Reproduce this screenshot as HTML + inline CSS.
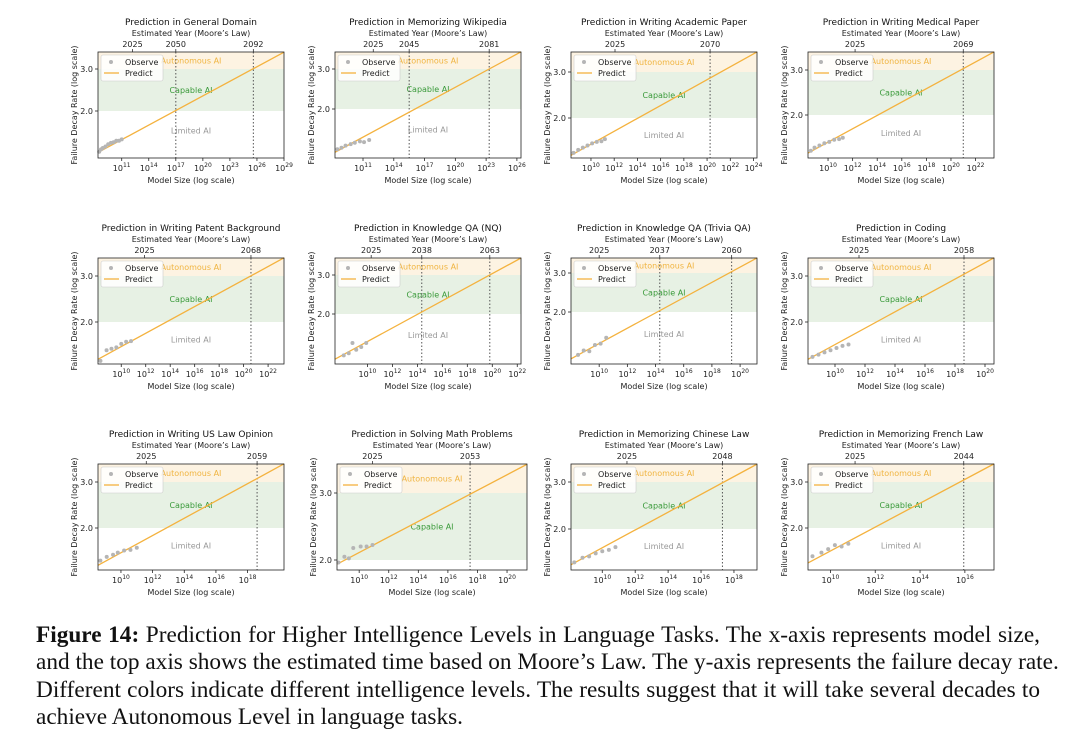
<!DOCTYPE html>
<html><head><meta charset="utf-8">
<style>
body{margin:0;background:#fff;width:1080px;height:748px;overflow:hidden;position:relative;font-family:"Liberation Sans","DejaVu Sans",sans-serif}
#cap{position:absolute;left:36px;top:622px;width:1004px;font-family:"Liberation Serif",serif;font-size:23.3px;line-height:27.3px;color:#111}
#cap div{white-space:nowrap;text-align:justify;text-align-last:justify}
#cap div.last{text-align-last:left}
svg text{font-family:"DejaVu Sans","Liberation Sans",sans-serif}
</style></head><body>
<svg id="fig" width="1080" height="620" style="position:absolute;left:0;top:0"></svg>
<div id="cap"><div><b>Figure 14:</b> Prediction for Higher Intelligence Levels in Language Tasks. The x-axis represents model size,</div><div>and the top axis shows the estimated time based on Moore’s Law. The y-axis represents the failure decay rate.</div><div>Different colors indicate different intelligence levels. The results suggest that it will take several decades to</div><div class="last">achieve Autonomous Level in language tasks.</div></div>
<script>
// Panel data
const titles=["Prediction in General Domain","Prediction in Memorizing Wikipedia","Prediction in Writing Academic Paper","Prediction in Writing Medical Paper","Prediction in Writing Patent Background","Prediction in Knowledge QA (NQ)","Prediction in Knowledge QA (Trivia QA)","Prediction in Coding","Prediction in Writing US Law Opinion","Prediction in Solving Math Problems","Prediction in Memorizing Chinese Law","Prediction in Memorizing French Law"];
const xDomains=[[8.37,29],[8.27,26.4],[8.28,24.3],[8.37,23.5],[8.1,23.3],[7.4,22.3],[8.0,21.2],[8.2,20.6],[8.55,20.3],[8.5,21.35],[8.1,19.4],[9.0,17.3]];
const xTicks=[[11,14,17,20,23,26,29],[11,14,17,20,23,26],[10,12,14,16,18,20,22,24],[10,12,14,16,18,20,22],[10,12,14,16,18,20,22],[10,12,14,16,18,20,22],[10,12,14,16,18,20],[10,12,14,16,18,20],[10,12,14,16,18],[10,12,14,16,18,20],[10,12,14,16,18],[10,12,14,16]];
const yTickVals=[2.0,3.0];
const yAnchors=[[17,59],[17,57],[20,66],[18,63],[18,64],[17,56],[15,54],[18,64],[18,64],[29,96],[18,65],[18,64]];
const yearLabels=[["2025","2050","2092"],["2025","2045","2081"],["2025","2070"],["2025","2069"],["2025","2068"],["2025","2038","2063"],["2025","2037","2060"],["2025","2058"],["2025","2059"],["2025","2053"],["2025","2048"],["2025","2044"]];
const yearX=[[12.2,17,25.6],[12.0,15.5,23.3],[12.07,20.26],[12.2,21.0],[11.9,20.6],[10.3,14.35,19.8],[10.0,14.3,19.4],[11.6,18.6],[11.6,18.6],[10.9,17.5],[11.5,17.3],[11.1,15.95]];
const predStart=[1.34,1.29,1.44,1.42,1.44,1.25,1.23,1.44,1.44,1.95,1.47,1.47];
const predEnd=[3.53,3.57,3.58,3.53,3.52,3.58,3.51,3.52,3.52,3.57,3.50,3.52];
const obsX=[
[8.5,8.7,8.9,9.2,9.5,9.8,10.1,10.4,10.7,11.0],
[8.5,8.9,9.3,9.8,10.2,10.7,11.1,11.6],
[8.5,8.9,9.3,9.7,10.1,10.5,10.9,11.2],
[8.6,8.9,9.3,9.7,10.1,10.5,10.9,11.2],
[8.3,8.8,9.2,9.6,10.0,10.4,10.8],
[8.1,8.5,8.8,9.1,9.5,9.9],
[8.5,8.9,9.3,9.7,10.1,10.5],
[8.5,8.9,9.3,9.7,10.1,10.5,10.9],
[8.7,9.1,9.5,9.8,10.2,10.6,11.0],
[8.6,9.0,9.3,9.6,10.1,10.5,10.9],
[8.3,8.8,9.2,9.6,10.0,10.4,10.8],
[9.2,9.6,9.9,10.2,10.5,10.8]];
const obsY=[
[1.35,1.38,1.40,1.42,1.45,1.47,1.48,1.50,1.50,1.52],
[1.33,1.35,1.38,1.40,1.42,1.44,1.43,1.46],
[1.47,1.51,1.54,1.57,1.60,1.62,1.63,1.66],
[1.45,1.49,1.52,1.55,1.57,1.60,1.61,1.63],
[1.42,1.56,1.58,1.60,1.65,1.68,1.69],
[1.30,1.33,1.48,1.38,1.42,1.48],
[1.28,1.34,1.33,1.42,1.44,1.53],
[1.47,1.50,1.53,1.56,1.59,1.62,1.64],
[1.50,1.55,1.58,1.61,1.64,1.65,1.68],
[1.97,2.04,2.02,2.15,2.17,2.17,2.19],
[1.50,1.56,1.58,1.62,1.65,1.67,1.71],
[1.56,1.61,1.66,1.72,1.70,1.74]];

const NS="http://www.w3.org/2000/svg";
const svg=document.getElementById('fig');
function mk(tag,attrs,parent,txt){const e=document.createElementNS(NS,tag);for(const k in attrs)e.setAttribute(k,attrs[k]);if(txt!==undefined)e.textContent=txt;(parent||svg).appendChild(e);return e;}
const colL=[98,335,571,808], rowT=[52,258,464];
titles.forEach((t,i)=>{
  const L=colL[i%4]+(i===9?2:0), T=rowT[Math.floor(i/4)], W=i===9?190:186, H=106;
  const g=mk('g',{});
  
  
  const [x0,x1]=xDomains[i];
  const sx=v=>L+(v-x0)/(x1-x0)*W;
  const [a3,a2]=yAnchors[i];
  const k=(a2-a3)/(Math.log10(3)-Math.log10(2));
  const sy=v=>T+a3-(Math.log10(v)-Math.log10(3))*k;
  const b1=mk('rect',{x:L,y:T,width:W,height:a3,fill:'#fdf3e2'},g);
  
  const b2=mk('rect',{x:L,y:T+a3,width:W,height:a2-a3,fill:'#e7f1e4'},g);
  
  const cx=L+W/2;
  const l1=mk('text',{x:cx,y:T+a3/2+3,'font-size':8,fill:'#f0b440','text-anchor':'middle'},g,'Autonomous AI');
  
  const l2=mk('text',{x:cx,y:T+(a3+a2)/2+3,'font-size':8,fill:'#3a9a3a','text-anchor':'middle'},g,'Capable AI');
  
  if(a2<H-10){const l3=mk('text',{x:cx,y:T+a2+(H-a2)*0.42+3,'font-size':8,fill:'#999','text-anchor':'middle'},g,'Limited AI');
  }
  yearX[i].forEach((yx,j)=>{
    const px=sx(yx);
    if(j>0){const vl=mk('line',{x1:px,x2:px,y1:T,y2:T+H,stroke:'#555','stroke-width':1,'stroke-dasharray':'1.5,2'},g);
      }
    mk('line',{x1:px,x2:px,y1:T,y2:T-3,stroke:'#333','stroke-width':0.8},g);
    const yt=mk('text',{x:px,y:T-5,'font-size':8,fill:'#222','text-anchor':'middle'},g,yearLabels[i][j]);
    
  });
  const pl=mk('line',{x1:sx(x0),y1:sy(predStart[i]),x2:sx(x1),y2:sy(predEnd[i]),stroke:'#f4b23e','stroke-width':1.3},g);
  
  obsX[i].forEach((ox,j)=>{
    const c=mk('circle',{cx:sx(ox),cy:sy(obsY[i][j]),r:2,fill:'#b5b5b5'},g);
    
  });
  const fr=mk('rect',{x:L,y:T,width:W,height:H,fill:'none',stroke:'#222','stroke-width':0.8},g);
  
  yTickVals.forEach(v=>{const py=sy(v);
    mk('line',{x1:L,x2:L-3,y1:py,y2:py,stroke:'#222','stroke-width':0.8},g);
    const tt=mk('text',{x:L-5,y:py+3,'font-size':8,fill:'#222','text-anchor':'end'},g,v.toFixed(1));
    });
  xTicks[i].forEach(v=>{const px=sx(v);
    mk('line',{x1:px,x2:px,y1:T+H,y2:T+H+3,stroke:'#222','stroke-width':0.8},g);
    const tt=mk('text',{x:px,y:T+H+13,'font-size':8,fill:'#222','text-anchor':'middle'},g);
    
    mk('tspan',{},tt,'10');mk('tspan',{dy:-4,'font-size':6},tt,String(v));});
  const ti=mk('text',{x:cx,y:T-27,'font-size':9,fill:'#111','text-anchor':'middle'},g,t);
  
  const ta=mk('text',{x:cx,y:T-16,'font-size':8,fill:'#222','text-anchor':'middle'},g,'Estimated Year (Moore’s Law)');
  
  const xa=mk('text',{x:cx,y:T+H+25,'font-size':8,fill:'#222','text-anchor':'middle'},g,'Model Size (log scale)');
  
  const ya=mk('text',{x:0,y:0,'font-size':8,fill:'#222','text-anchor':'middle',transform:`translate(${L-21},${T+H/2}) rotate(-90)`},g,'Failure Decay Rate (log scale)');
  
  const lg=mk('g',{},g);
  
  mk('rect',{x:L+3,y:T+3,width:62,height:26,rx:2,fill:'#fff','fill-opacity':0.85,stroke:'#ccc','stroke-width':0.6},lg);
  mk('circle',{cx:L+13,cy:T+10,r:2,fill:'#b5b5b5'},lg);
  mk('text',{x:L+27,y:T+13,'font-size':8,fill:'#222'},lg,'Observe');
  mk('line',{x1:L+6,x2:L+21,y1:T+21,y2:T+21,stroke:'#f4b23e','stroke-width':1.3},lg);
  mk('text',{x:L+27,y:T+24,'font-size':8,fill:'#222'},lg,'Predict');
});
</script>
</body></html>
